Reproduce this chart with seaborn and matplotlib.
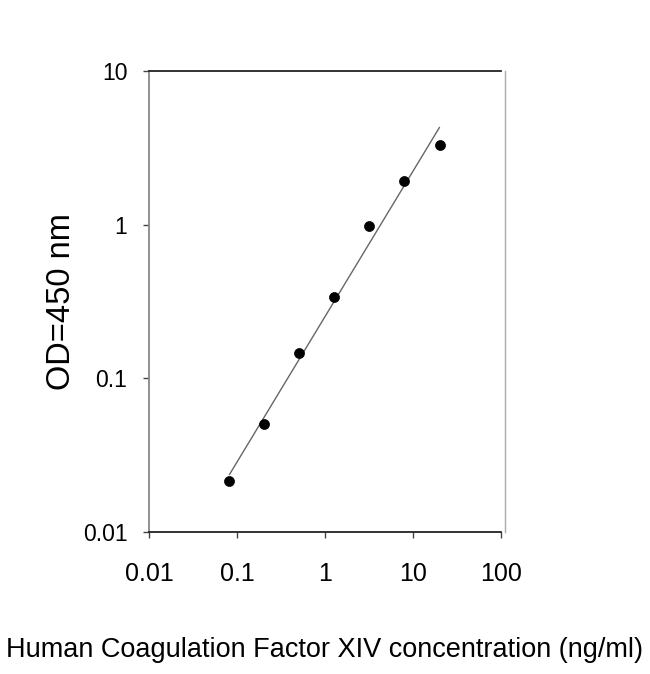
import numpy as np
import pandas as pd
import matplotlib
matplotlib.use('Agg')
import matplotlib.pyplot as plt
import seaborn as sns
from matplotlib.ticker import FuncFormatter, NullLocator

# standard curve
conc = [0.082, 0.205, 0.512, 1.28, 3.2, 8.0, 20.0]
od = [0.0215, 0.0505, 0.146, 0.337, 0.98, 1.93, 3.29]

x_ticks = [0.01, 0.1, 1, 10, 100]
y_ticks = [0.01, 0.1, 1, 10]

df = pd.DataFrame({'conc': conc, 'od': od})

# log-log linear fit for the line
k, b = np.polyfit(np.log10(df['conc']), np.log10(df['od']), 1)
fit = pd.DataFrame({'conc': [min(conc), max(conc)]})
fit['od'] = 10 ** (k * np.log10(fit['conc']) + b)

sns.set_theme(style='white')
plt.rcParams['font.family'] = ['Liberation Sans', 'DejaVu Sans']

fig = plt.figure(figsize=(6.5, 6.74), dpi=100)
ax = fig.add_axes([0.2292, 0.2107, 0.5416, 0.684])

sns.lineplot(data=fit, x='conc', y='od', ax=ax, color='#666666', linewidth=1.0)
sns.scatterplot(data=df, x='conc', y='od', ax=ax, color='black', s=52,
                edgecolor='black', linewidth=0.5, zorder=3)

ax.set_xscale('log')
ax.set_yscale('log')
ax.set_xlim(0.01, 100)
ax.set_ylim(0.01, 10)
ax.set_xticks(x_ticks)
ax.set_yticks(y_ticks)
ax.xaxis.set_minor_locator(NullLocator())
ax.yaxis.set_minor_locator(NullLocator())
fmt = FuncFormatter(lambda v, p: '{:g}'.format(v))
ax.xaxis.set_major_formatter(fmt)
ax.yaxis.set_major_formatter(fmt)

ax.tick_params(axis='both', which='major', direction='out', length=4.5,
               width=1, color='#444444', labelcolor='black',
               bottom=True, left=True)
ax.tick_params(axis='x', pad=17, labelsize=18)
ax.tick_params(axis='y', pad=11, labelsize=16.5)

for s in ['top', 'bottom']:
    ax.spines[s].set_color('#222222')
    ax.spines[s].set_linewidth(1.3)
ax.spines['left'].set_color('#888888')
ax.spines['left'].set_linewidth(1.3)
ax.spines['right'].set_color('#aaaaaa')
ax.spines['right'].set_linewidth(1.0)
ax.spines['right'].set_position(('outward', 3))

ax.set_xlabel('Human Coagulation Factor XIV concentration (ng/ml)',
              fontsize=19.5, labelpad=37, color='black')
ax.set_ylabel('OD=450 nm', fontsize=23.5, labelpad=4, color='black')

fig.savefig('out.png', dpi=100, facecolor='white')
